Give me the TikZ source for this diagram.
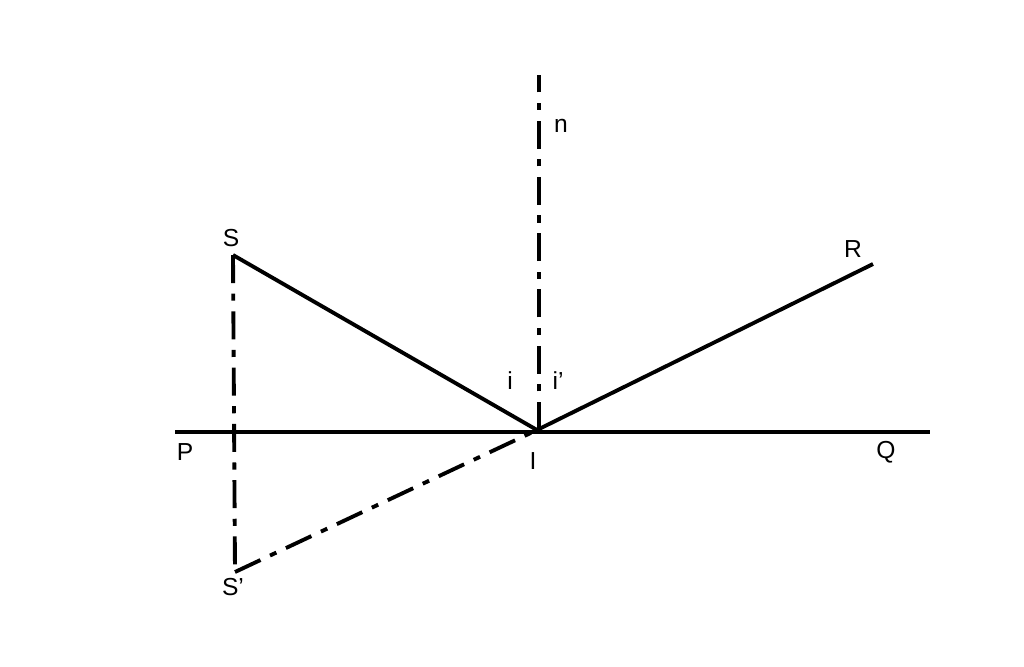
\documentclass[tikz,border=0pt]{standalone}
\usepackage{fontspec}
\setmainfont{Liberation Sans}
\begin{document}
\begin{tikzpicture}[x=0.01cm, y=-0.01cm,
% line styles
ray/.style={line width=1.1pt},
guide/.style={line width=1.1pt, dash pattern=on 8pt off 3pt on 2pt off 3pt},
lbl/.style={font=\fontsize{7}{8}\selectfont, inner sep=0pt}
]
\useasboundingbox (0,0) rectangle (1024,666);

% points
\coordinate (S) at (233,255);
\coordinate (Sp) at (235,572);
\coordinate (I) at (537,430);
\coordinate (R) at (873,264);
\coordinate (P) at (175,432);
\coordinate (Q) at (930,432);
\coordinate (N) at (539,75);
\coordinate (Ib) at (539,430);

% lines
\draw[ray] (P) -- (Q);
\draw[ray] (S) -- (I) -- (R);
\draw[guide] (Ib) -- (N);
\draw[guide] (S) -- (Sp);
\draw[guide] (Sp) -- (I);

% labels
\node[lbl] (lS) at (231,238) {S};
\node[lbl] (lR) at (853,249) {R};
\node[lbl] (lP) at (185,452) {P};
\node[lbl] (lQ) at (886,452) {Q};
\node[lbl] (lI) at (533,461) {I};
\node[lbl] (ln) at (561,126) {n};
\node[lbl] (li) at (510,381) {i};
\node[lbl] (lip) at (558,381) {i'};
\node[lbl] (lSp) at (233,587) {S'};
\end{tikzpicture}
\end{document}
